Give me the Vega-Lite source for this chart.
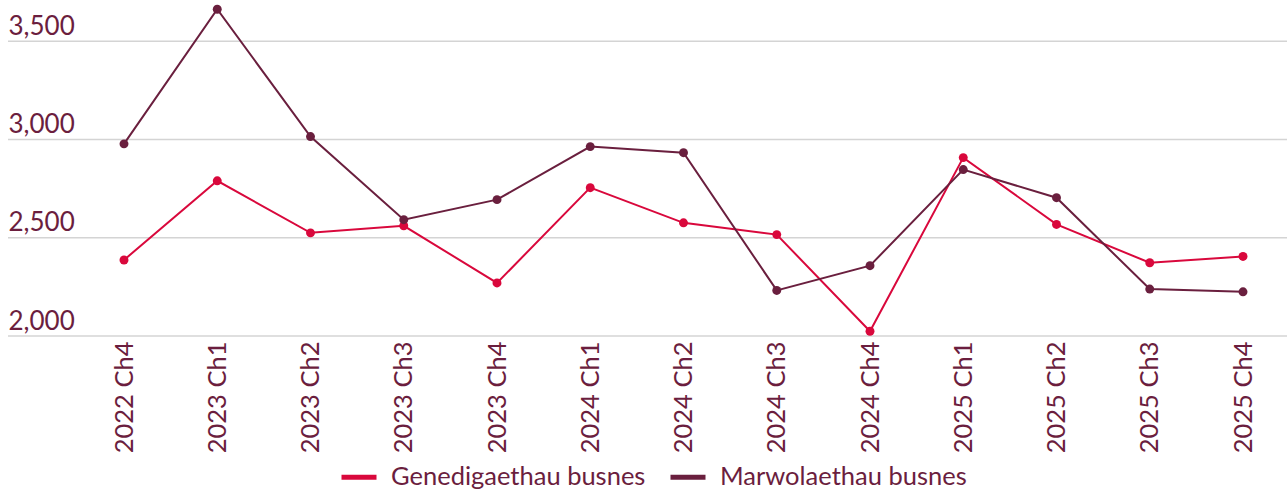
{
  "$schema": "https://vega.github.io/schema/vega-lite/v6.json",
  "autosize": "none",
  "width": 1279,
  "height": 334,
  "padding": {"left": 8, "top": 2, "right": 0, "bottom": 156},
  "background": "white",
  "config": {
    "font": "Lato",
    "view": {"stroke": null},
    "axis": {"labelColor": "#6b1e3e", "labelFont": "Lato"},
    "legend": {"labelColor": "#6b1e3e", "labelFont": "Lato"}
  },
  "datasets": {
    "grid": [{"g": 2000}, {"g": 2500}, {"g": 3000}, {"g": 3500}],
    "main": [
      {"q": "2022 Ch4", "s": "Genedigaethau busnes", "v": 2387},
      {"q": "2023 Ch1", "s": "Genedigaethau busnes", "v": 2790},
      {"q": "2023 Ch2", "s": "Genedigaethau busnes", "v": 2525},
      {"q": "2023 Ch3", "s": "Genedigaethau busnes", "v": 2561},
      {"q": "2023 Ch4", "s": "Genedigaethau busnes", "v": 2270},
      {"q": "2024 Ch1", "s": "Genedigaethau busnes", "v": 2755},
      {"q": "2024 Ch2", "s": "Genedigaethau busnes", "v": 2576},
      {"q": "2024 Ch3", "s": "Genedigaethau busnes", "v": 2516},
      {"q": "2024 Ch4", "s": "Genedigaethau busnes", "v": 2024},
      {"q": "2025 Ch1", "s": "Genedigaethau busnes", "v": 2908},
      {"q": "2025 Ch2", "s": "Genedigaethau busnes", "v": 2568},
      {"q": "2025 Ch3", "s": "Genedigaethau busnes", "v": 2373},
      {"q": "2025 Ch4", "s": "Genedigaethau busnes", "v": 2405},
      {"q": "2022 Ch4", "s": "Marwolaethau busnes", "v": 2978},
      {"q": "2023 Ch1", "s": "Marwolaethau busnes", "v": 3663},
      {"q": "2023 Ch2", "s": "Marwolaethau busnes", "v": 3015},
      {"q": "2023 Ch3", "s": "Marwolaethau busnes", "v": 2592},
      {"q": "2023 Ch4", "s": "Marwolaethau busnes", "v": 2694},
      {"q": "2024 Ch1", "s": "Marwolaethau busnes", "v": 2964},
      {"q": "2024 Ch2", "s": "Marwolaethau busnes", "v": 2933},
      {"q": "2024 Ch3", "s": "Marwolaethau busnes", "v": 2232},
      {"q": "2024 Ch4", "s": "Marwolaethau busnes", "v": 2358},
      {"q": "2025 Ch1", "s": "Marwolaethau busnes", "v": 2847},
      {"q": "2025 Ch2", "s": "Marwolaethau busnes", "v": 2704},
      {"q": "2025 Ch3", "s": "Marwolaethau busnes", "v": 2239},
      {"q": "2025 Ch4", "s": "Marwolaethau busnes", "v": 2225}
    ]
  },
  "resolve": {"scale": {"y": "shared"}},
  "layer": [
    {
      "data": {"name": "grid"},
      "mark": {"type": "rule", "color": "#d4d4d4", "strokeWidth": 1.5},
      "encoding": {
        "y": {
          "field": "g", "type": "quantitative",
          "scale": {"domain": [2000, 3700], "nice": false, "zero": false},
          "axis": {
            "title": null, "domain": false, "ticks": false, "tickSize": 0, "grid": false,
            "values": [2000, 2500, 3000, 3500], "format": ",.0f",
            "labelAlign": "left", "labelBaseline": "bottom", "labelPadding": 0,
            "labelOffset": -2, "labelFontSize": 26
          }
        }
      }
    },
    {
      "data": {"name": "main"},
      "encoding": {
        "x": {
          "field": "q", "type": "ordinal", "sort": null,
          "scale": {"type": "point", "range": [116, 1235], "padding": 0},
          "axis": {
            "title": null, "domain": false, "ticks": false, "grid": false,
            "labelAngle": -90, "labelAlign": "right", "labelBaseline": "middle",
            "labelPadding": 5, "labelFontSize": 25.5
          }
        },
        "y": {"field": "v", "type": "quantitative"},
        "color": {
          "field": "s", "type": "nominal",
          "scale": {"domain": ["Genedigaethau busnes", "Marwolaethau busnes"], "range": ["#d9083c", "#6a1f3e"]},
          "legend": {
            "title": null, "orient": "none", "direction": "horizontal",
            "legendX": 331, "legendY": 455,
            "symbolType": "stroke", "symbolStrokeWidth": 5, "symbolSize": 1225,
            "labelFontSize": 25.5, "labelLimit": 0, "labelOffset": 12, "columnPadding": 14
          }
        }
      },
      "layer": [
        {"mark": {"type": "line", "strokeWidth": 2}},
        {"mark": {"type": "circle", "size": 80, "opacity": 1}}
      ]
    }
  ]
}
